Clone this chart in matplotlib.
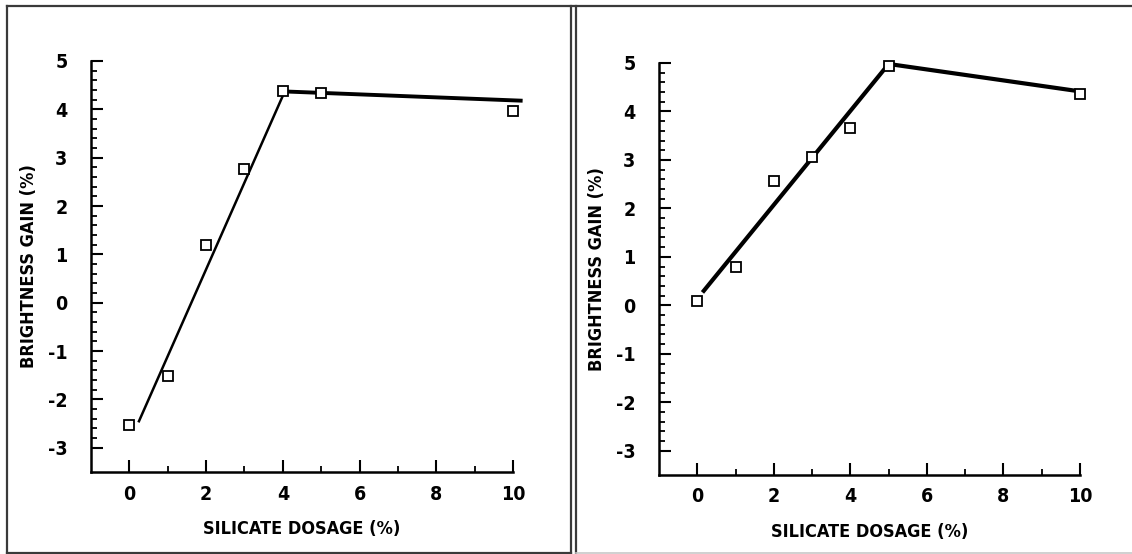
import matplotlib.pyplot as plt
from matplotlib import font_manager
from matplotlib.lines import Line2D
from matplotlib.ticker import FixedLocator

# data
dosage = [0, 1, 2, 3, 4, 5, 10]
gain_left = [-2.53, -1.52, 1.19, 2.76, 4.37, 4.34, 3.96]
gain_right = [0.09, 0.79, 2.56, 3.07, 3.65, 4.94, 4.36]

# fitted lines drawn through the points
fit_left_x = [0.25, 4.05, 10.2]
fit_left_y = [-2.45, 4.37, 4.18]
fit_right_x = [0.17, 5.0, 9.95]
fit_right_y = [0.3, 4.98, 4.42]

x_major = [0, 2, 4, 6, 8, 10]
x_minor = [1, 3, 5, 7, 9]
y_major = [-3, -2, -1, 0, 1, 2, 3, 4, 5]
y_minor = [-3 + 0.2 * i for i in range(41)]

xlabel = "SILICATE DOSAGE (%)"
ylabel = "BRIGHTNESS GAIN (%)"

# narrow plotter-like lettering: use a condensed face when one is installed
names = {f.name for f in font_manager.fontManager.ttflist}
condensed = any(f.name == 'DejaVu Sans' and f.stretch in ('condensed', 600, 'semi-condensed')
                for f in font_manager.fontManager.ttflist)
if 'Liberation Sans Narrow' in names:
    plt.rcParams['font.family'] = ['Liberation Sans Narrow', 'DejaVu Sans']
    label_size = 14
elif condensed:
    plt.rcParams['font.family'] = ['DejaVu Sans']
    plt.rcParams['font.stretch'] = 'condensed'
    label_size = 13
else:
    plt.rcParams['font.family'] = ['DejaVu Sans']
    label_size = 11.5
plt.rcParams['font.weight'] = 'bold'
plt.rcParams['axes.labelweight'] = 'bold'

fig = plt.figure(figsize=(11.32, 5.54), dpi=100)

# scanned page frame
W, H = 1132, 554
frame = dict(color='#3a3a3a', lw=1.6, transform=fig.transFigure)
fig.add_artist(Line2D([7 / W, 1], [1 - 6 / H, 1 - 6 / H], **frame))
fig.add_artist(Line2D([7 / W, 571 / W], [1 - 553 / H, 1 - 553 / H], **frame))
fig.add_artist(Line2D([7 / W, 7 / W], [1 - 553 / H, 1 - 6 / H], **frame))
fig.add_artist(Line2D([571 / W, 571 / W], [1 - 553 / H, 1 - 6 / H], **frame))
fig.add_artist(Line2D([576 / W, 576 / W], [1 - 553 / H, 1 - 6 / H], **frame))
fig.add_artist(Line2D([576 / W, 1], [1 - 553 / H, 1 - 553 / H], color='#c8c8c8', lw=1.2,
                      transform=fig.transFigure))

ax1 = fig.add_axes([91 / W, 82 / H, 422 / W, 411 / H])
ax2 = fig.add_axes([659 / W, 79 / H, 421 / W, 412 / H])


def style(ax):
    ax.set_xlim(-1, 10)
    ax.set_ylim(-3.5, 5)
    ax.spines['top'].set_visible(False)
    ax.spines['right'].set_visible(False)
    for s in ('left', 'bottom'):
        ax.spines[s].set_linewidth(1.8)
        ax.spines[s].set_color('black')
    ax.xaxis.set_major_locator(FixedLocator(x_major))
    ax.xaxis.set_minor_locator(FixedLocator(x_minor))
    ax.yaxis.set_major_locator(FixedLocator(y_major))
    ax.yaxis.set_minor_locator(FixedLocator(y_minor))
    ax.set_xticklabels([str(v) for v in x_major])
    ax.set_yticklabels([str(v) for v in y_major])
    ax.tick_params(which='major', direction='in', length=8.5, width=1.5, labelsize=14, pad=9)
    ax.tick_params(which='minor', direction='in', length=4.5, width=1.3)
    ax.tick_params(axis='y', which='major', pad=17)
    ax.set_xlabel(xlabel, fontsize=label_size, fontweight='bold', labelpad=12)
    ax.set_ylabel(ylabel, fontsize=label_size, fontweight='bold', labelpad=7)


for ax in (ax1, ax2):
    style(ax)

ax1.plot(fit_left_x[:2], fit_left_y[:2], color='black', lw=1.8, clip_on=False)
ax1.plot(fit_left_x[1:], fit_left_y[1:], color='black', lw=2.8, clip_on=False)
ax1.plot(dosage, gain_left, ls='none', marker='s', ms=7, mfc='white', mec='black',
         mew=1.3, clip_on=False, zorder=5)

ax2.plot(fit_right_x, fit_right_y, color='black', lw=3.0, clip_on=False)
ax2.plot(dosage, gain_right, ls='none', marker='s', ms=7, mfc='white', mec='black',
         mew=1.3, clip_on=False, zorder=5)

fig.savefig('out.png', dpi=100)
